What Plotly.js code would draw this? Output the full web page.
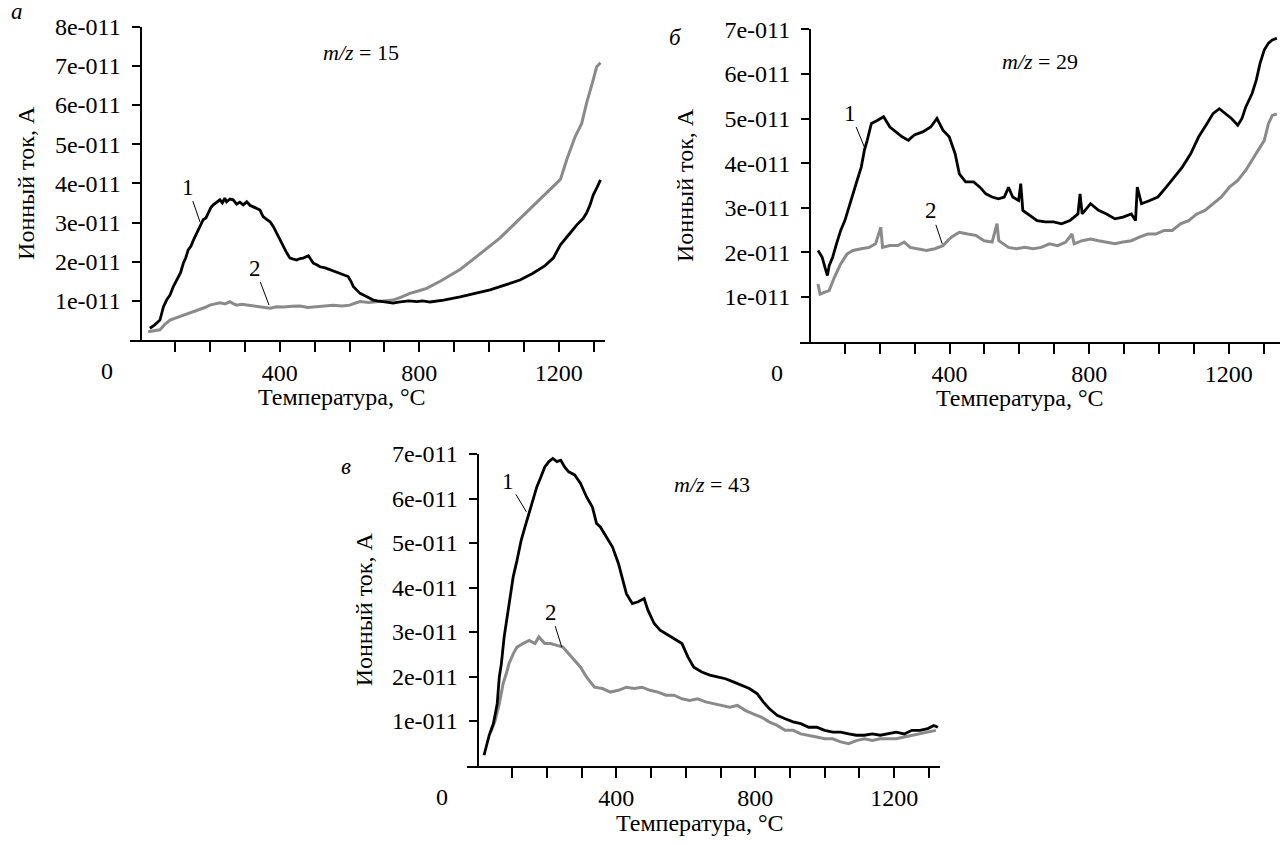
<!DOCTYPE html>
<html>
<head>
<meta charset="utf-8">
<script src="https://cdn.plot.ly/plotly-3.0.1.min.js"></script>
<style>html,body{margin:0;padding:0;background:#fff;}#chart{width:1282px;height:845px;}</style>
</head>
<body>
<div id="chart"></div>
<script>
// ---- Data (ion current in units of 1e-11 A, temperature in °C) ----
// Panel а: m/z = 15
const tA1 = [27,40,56,66,75,85,94,108,115,123,130,137,145,152,160,166,173,180,188,195,202,209,218,228,235,242,247,257,266,276,285,295,305,314,324,334,343,348,352,362,372,381,391,400,410,420,429,438,448,458,467,482,490,496,506,515,530,544,558,572,585,596,605,611,620,630,640,649,658,668,680,697,710,725,740,754,770,793,810,831,870,917,960,1003,1045,1089,1125,1161,1185,1205,1230,1252,1270,1280,1290,1299,1310,1320];
const vA1 = [0.30,0.38,0.51,0.85,1.02,1.15,1.36,1.62,1.72,1.96,2.10,2.30,2.40,2.55,2.70,2.81,2.95,3.07,3.12,3.24,3.38,3.45,3.52,3.58,3.50,3.62,3.53,3.60,3.58,3.47,3.52,3.45,3.53,3.44,3.40,3.36,3.32,3.22,3.15,3.08,3.02,2.90,2.72,2.55,2.38,2.22,2.09,2.06,2.04,2.08,2.09,2.15,2.05,1.96,1.92,1.87,1.84,1.79,1.74,1.70,1.66,1.62,1.48,1.36,1.28,1.19,1.15,1.11,1.05,1.02,1.00,0.98,0.95,0.94,0.97,0.98,1.00,0.98,1.00,0.97,1.02,1.10,1.20,1.28,1.40,1.53,1.70,1.90,2.10,2.43,2.70,2.94,3.10,3.24,3.45,3.70,3.90,4.09];
const tA2 = [22,40,56,70,85,100,113,128,142,156,171,185,199,214,228,243,257,266,276,290,305,324,343,358,372,391,410,435,458,480,506,530,553,578,601,615,630,655,678,700,725,750,773,797,821,860,917,946,975,1003,1031,1060,1089,1118,1147,1175,1205,1223,1247,1266,1280,1299,1309,1320];
const vA2 = [0.21,0.24,0.26,0.40,0.51,0.56,0.60,0.64,0.68,0.73,0.77,0.83,0.89,0.93,0.95,0.92,0.98,0.93,0.89,0.91,0.89,0.87,0.85,0.82,0.81,0.85,0.84,0.86,0.87,0.83,0.85,0.88,0.89,0.87,0.89,0.94,0.98,0.96,0.98,1.00,1.02,1.10,1.19,1.25,1.32,1.50,1.80,2.00,2.20,2.40,2.60,2.85,3.10,3.35,3.60,3.85,4.10,4.60,5.19,5.53,6.05,6.64,6.98,7.08];

// Panel б: m/z = 29
const tB1 = [23,35,43,50,55,65,76,88,100,111,123,135,147,156,164,176,194,211,229,246,264,282,299,323,346,364,381,399,416,428,446,469,487,504,522,540,557,569,581,598,604,610,628,651,674,698,721,745,768,774,780,804,827,850,874,897,921,933,938,950,974,997,1021,1044,1067,1091,1114,1138,1155,1173,1191,1208,1226,1238,1249,1267,1279,1290,1302,1314,1325,1338];
const vB1 = [2.04,1.89,1.66,1.48,1.70,1.89,2.19,2.49,2.71,3.01,3.31,3.61,3.91,4.29,4.51,4.89,4.96,5.04,4.81,4.70,4.59,4.51,4.63,4.70,4.81,5.00,4.74,4.59,4.21,3.76,3.58,3.58,3.46,3.31,3.24,3.20,3.24,3.46,3.24,3.16,3.54,2.94,2.83,2.71,2.68,2.68,2.64,2.71,2.86,3.31,2.86,3.09,2.94,2.86,2.75,2.79,2.86,2.71,3.46,3.09,3.16,3.24,3.46,3.69,3.91,4.21,4.59,4.89,5.11,5.22,5.11,5.00,4.85,5.00,5.26,5.56,5.86,6.24,6.54,6.69,6.76,6.80];
const tB2 = [23,29,41,55,70,88,106,123,147,170,188,203,208,229,252,270,287,311,334,358,381,405,428,452,475,499,522,536,541,569,592,616,639,663,686,710,733,751,757,780,804,827,850,874,897,921,944,968,991,1015,1038,1062,1085,1109,1132,1155,1179,1202,1226,1249,1273,1290,1302,1314,1325,1338];
const vB2 = [1.29,1.06,1.10,1.14,1.44,1.74,1.96,2.04,2.08,2.11,2.19,2.56,2.11,2.15,2.15,2.23,2.11,2.08,2.04,2.08,2.15,2.34,2.45,2.41,2.38,2.26,2.23,2.64,2.26,2.11,2.08,2.11,2.08,2.11,2.19,2.15,2.23,2.41,2.19,2.26,2.30,2.26,2.23,2.19,2.23,2.26,2.34,2.41,2.41,2.49,2.49,2.64,2.71,2.86,2.94,3.09,3.24,3.46,3.61,3.84,4.14,4.36,4.51,4.89,5.07,5.10];

// Panel в: m/z = 43
const tC1 = [19,34,46,57,63,69,77,86,95,103,114,126,137,149,160,171,183,194,206,217,229,240,251,263,280,297,314,331,343,354,371,389,406,417,429,446,463,480,491,509,526,543,566,589,606,623,646,669,691,714,737,760,783,806,823,840,863,886,909,931,954,977,1000,1023,1046,1069,1091,1114,1137,1160,1183,1206,1229,1251,1274,1297,1314,1326];
const vC1 = [0.23,0.68,0.94,1.39,1.99,2.29,2.89,3.34,3.79,4.24,4.61,5.06,5.36,5.66,5.96,6.26,6.49,6.71,6.83,6.90,6.83,6.86,6.71,6.60,6.53,6.34,6.04,5.81,5.44,5.36,5.14,4.91,4.54,4.24,3.86,3.64,3.68,3.75,3.49,3.19,3.04,2.96,2.85,2.74,2.44,2.21,2.10,2.03,1.99,1.95,1.88,1.80,1.73,1.61,1.43,1.28,1.13,1.05,0.98,0.94,0.86,0.86,0.79,0.75,0.75,0.71,0.68,0.68,0.71,0.68,0.71,0.75,0.71,0.79,0.79,0.83,0.90,0.86];
const tC2 = [38,51,63,74,83,91,103,114,131,149,166,177,194,211,229,246,263,280,297,314,337,360,383,406,429,451,474,497,520,543,566,589,611,634,657,680,703,726,749,771,794,817,840,863,886,909,931,954,977,1000,1023,1046,1069,1091,1114,1137,1160,1183,1206,1229,1251,1274,1297,1320];
const vC2 = [0.75,1.01,1.39,1.84,2.06,2.29,2.51,2.66,2.74,2.81,2.74,2.89,2.74,2.74,2.70,2.66,2.51,2.36,2.21,1.99,1.76,1.73,1.65,1.69,1.76,1.73,1.76,1.69,1.65,1.58,1.58,1.50,1.46,1.50,1.43,1.39,1.35,1.31,1.35,1.24,1.16,1.09,0.98,0.90,0.79,0.79,0.71,0.68,0.64,0.60,0.60,0.53,0.49,0.56,0.60,0.56,0.60,0.60,0.60,0.64,0.68,0.71,0.75,0.79];

// Axis ticks
const xTickVals = [100,200,300,400,500,600,700,800,900,1000,1100,1200,1300];
const xTickText = ['','','','400','','','','800','','','','1200',''];
const yTickValsA = [1,2,3,4,5,6,7,8];
const yTickTextA = ['1e-011','2e-011','3e-011','4e-011','5e-011','6e-011','7e-011','8e-011'];
const yTickValsBC = [1,2,3,4,5,6,7];
const yTickTextBC = ['1e-011','2e-011','3e-011','4e-011','5e-011','6e-011','7e-011'];

const xTitle = 'Температура, °C';
const yTitle = 'Ионный ток, А';
const panelLetters = ['а','б','в'];
const mzLabels = ['<i>m/z</i> = 15','<i>m/z</i> = 29','<i>m/z</i> = 43'];

// ---- Styles ----
const FONT = 'Liberation Serif';
const BLACK = '#000000';
const GRAY = '#8a8a8a';

function line(x, y, xa, ya, color, w) {
  return {x: x, y: y, xaxis: xa, yaxis: ya, type: 'scatter', mode: 'lines',
          line: {color: color, width: w}, hoverinfo: 'skip'};
}

const data = [
  line(tA2, vA2, 'x', 'y', GRAY, 3),
  line(tA1, vA1, 'x', 'y', BLACK, 2.8),
  line(tB2, vB2, 'x2', 'y2', GRAY, 3),
  line(tB1, vB1, 'x2', 'y2', BLACK, 2.8),
  line(tC2, vC2, 'x3', 'y3', GRAY, 3),
  line(tC1, vC1, 'x3', 'y3', BLACK, 2.8)
];

const tickFont = {family: FONT, size: 24, color: '#000'};
function xAxis(domain, range, anchor) {
  return {domain: domain, range: range, anchor: anchor, tickvals: xTickVals, ticktext: xTickText,
          ticks: 'outside', ticklen: 10, tickwidth: 2, tickcolor: '#000', showline: true,
          linewidth: 2, linecolor: '#000', showgrid: false, zeroline: false, fixedrange: true,
          tickfont: tickFont};
}
function yAxis(domain, range, pos, vals, text, standoff) {
  return {domain: domain, range: range, anchor: 'free', position: pos, tickvals: vals, ticktext: text,
          ticks: 'outside', ticklen: 8, tickwidth: 2, tickcolor: '#000', showline: true,
          linewidth: 2, linecolor: '#000', showgrid: false, zeroline: false, fixedrange: true,
          ticklabelstandoff: 6,
          tickfont: tickFont,
          title: {text: yTitle, font: {family: FONT, size: 24, color: '#000'}, standoff: standoff}};
}

const W = 1282, H = 845;
const annFont = {family: FONT, size: 23, color: '#000'};
function paperText(text, px, py, extra) {
  return Object.assign({text: text, xref: 'paper', yref: 'paper', x: px / W, y: 1 - py / H,
    xanchor: 'center', yanchor: 'middle', showarrow: false, font: annFont}, extra || {});
}
function zeroLabel(xa, ya, shift) {
  return {text: '0', xref: xa, yref: ya, x: 0, y: 0, xshift: shift, yshift: -31,
          xanchor: 'center', yanchor: 'middle', showarrow: false, font: tickFont};
}
function curveLabel(text, xa, ya, x, y, ax, ay) {
  return {text: text, xref: xa, yref: ya, x: x, y: y, ax: ax, ay: ay, showarrow: true,
          arrowhead: 0, arrowwidth: 1, arrowcolor: '#000', standoff: 0, startstandoff: 0,
          font: annFont};
}
const titleFont = {family: FONT, size: 24, color: '#000'};
const mzFont = {family: FONT, size: 22, color: '#000'};

const layout = {
  width: W, height: H, margin: {l: 0, r: 0, t: 0, b: 0},
  paper_bgcolor: '#fff', plot_bgcolor: '#fff', showlegend: false,
  font: {family: FONT, color: '#000'},
  xaxis: xAxis([130 / W, 604.7 / W], [-30, 1332], 'y'),
  yaxis: yAxis([1 - 340 / H, 1 - 26.7 / H], [0, 8], 140.5 / W, yTickValsA, yTickTextA, 13),
  xaxis2: xAxis([799.5 / W, 1280 / W], [-30, 1347], 'y2'),
  yaxis2: yAxis([1 - 341.5 / H, 1 - 29.3 / H], [0, 7], 810 / W, yTickValsBC, yTickTextBC, 23),
  xaxis3: xAxis([467 / W, 940 / W], [-30, 1332], 'y3'),
  yaxis3: yAxis([1 - 765.5 / H, 1 - 454 / H], [0, 7], 477.5 / W, yTickValsBC, yTickTextBC, 12),
  annotations: [
    zeroLabel('x', 'y', -33), zeroLabel('x2', 'y2', -33), zeroLabel('x3', 'y3', -35),
    paperText(xTitle, 342, 397, {font: titleFont}),
    paperText(xTitle, 1020, 398, {font: titleFont}),
    paperText(xTitle, 700, 823, {font: titleFont}),
    paperText('<i>' + panelLetters[0] + '</i>', 17, 12),
    paperText('<i>' + panelLetters[1] + '</i>', 676, 37),
    paperText('<i>' + panelLetters[2] + '</i>', 346, 466),
    paperText(mzLabels[0], 361, 52, {font: mzFont}),
    paperText(mzLabels[1], 1040, 62, {font: mzFont}),
    paperText(mzLabels[2], 712, 484, {font: mzFont}),
    curveLabel('1', 'x', 'y', 171, 3.01, -12, -35),
    curveLabel('2', 'x', 'y', 369, 0.89, -14, -37),
    curveLabel('1', 'x2', 'y2', 156, 4.36, -14, -34),
    curveLabel('2', 'x2', 'y2', 379, 2.19, -11, -33),
    curveLabel('1', 'x3', 'y3', 141, 5.70, -18, -30),
    curveLabel('2', 'x3', 'y3', 243, 2.66, -11, -35)
  ]
};

Plotly.newPlot('chart', data, layout, {staticPlot: true, displayModeBar: false});
</script>
</body>
</html>
